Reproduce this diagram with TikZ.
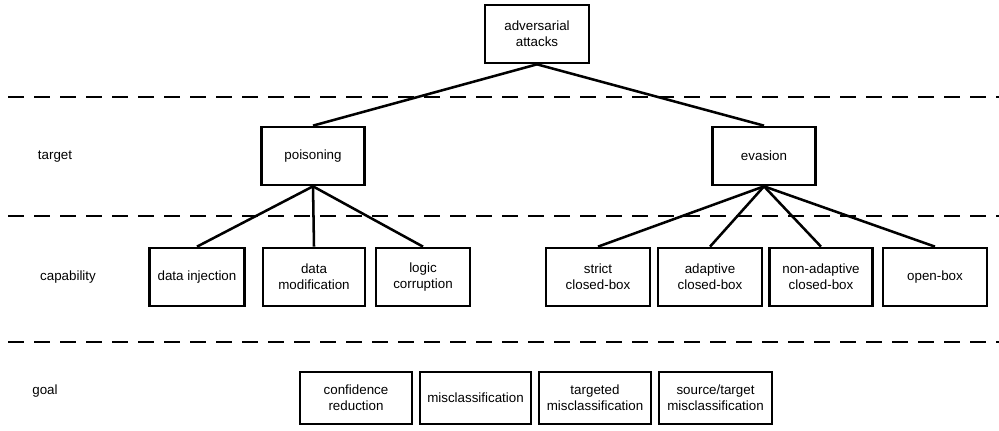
\documentclass[tikz,border=0pt]{standalone}
\usepackage{fontspec}
\setmainfont{Liberation Sans}
\usepackage{tikz}
\tikzset{%
    box/.style={%
        draw, line width=1.9pt, minimum height=1.45cm, align=center,
        font=\fontsize{9.5}{11.5}\selectfont, inner sep=2pt
    },
    layer/.style={font=\fontsize{9.5}{11.5}\selectfont},
    sep/.style={line width=2pt, dash pattern=on 0.4cm off 0.25cm},
    link/.style={line width=1.8pt}
}

\begin{document}
\begin{tikzpicture}[x=0.025cm, y=-0.025cm]
    \useasboundingbox (0,0) rectangle (999,431);
    % separators
    \draw[sep] (8,97)--(999,97);
    \draw[sep] (8,216)--(999,216);
    \draw[sep] (8,342)--(999,342);
    % layer names
    \node[layer] (ltarget) at (55,157) {target};
    \node[layer] (lcap) at (68,277) {capability};
    \node[layer] (lgoal) at (45,391) {goal};
    % tree
    \node[box, minimum width=2.6cm] (root) at (537,34) {adversarial\\attacks};
    \node[box, minimum width=2.575cm] (pois) at (313,156) {poisoning};
    \node[box, minimum width=2.575cm] (evas) at (764,156) {evasion};
    \node[box, minimum width=2.375cm] (inj) at (197,277) {data injection};
    \node[box, minimum width=2.55cm] (mod) at (314,277) {data\\modification};
    \node[box, minimum width=2.35cm] (logic) at (423,277) {logic\\corruption};
    \node[box, minimum width=2.6cm] (strict) at (598,277) {strict\\closed-box};
    \node[box, minimum width=2.6cm] (adapt) at (710,277) {adaptive\\closed-box};
    \node[box, minimum width=2.575cm] (nonad) at (821,277) {non-adaptive\\closed-box};
    \node[box, minimum width=2.6cm] (open) at (935,277) {open-box};
    % goals
    \node[box, minimum width=2.8cm, minimum height=1.3cm] (conf) at (356,398) {confidence\\reduction};
    \node[box, minimum width=2.775cm, minimum height=1.3cm] (miscl) at (475.5,398) {misclassification};
    \node[box, minimum width=2.8cm, minimum height=1.3cm] (tgt) at (595,398) {targeted\\misclassification};
    \node[box, minimum width=2.825cm, minimum height=1.3cm] (srctgt) at (715.5,398) {source/target\\misclassification};
    % links
    \draw[link] (root.south) -- (pois.north);
    \draw[link] (root.south) -- (evas.north);
    \foreach \n in {inj,mod,logic}
    {
    \draw[link] (pois.south) -- (\n.north);
    }
    \foreach \n in {strict,adapt,nonad,open}
    {
    \draw[link] (evas.south) -- (\n.north);
    }
\end{tikzpicture}
\end{document}
